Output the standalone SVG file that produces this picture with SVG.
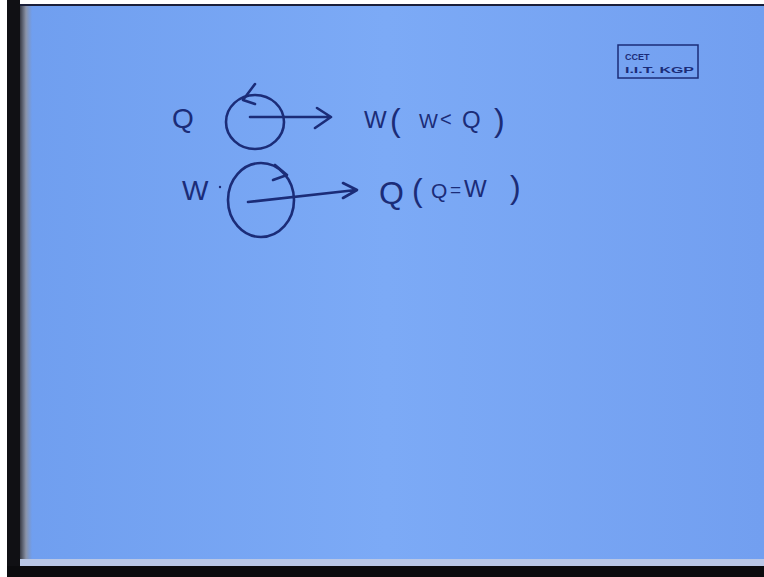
<svg xmlns="http://www.w3.org/2000/svg" width="764" height="577" viewBox="0 0 764 577">
<defs>
<linearGradient id="bg" x1="0" y1="0" x2="1" y2="0">
<stop offset="0" stop-color="#6f9eef"/>
<stop offset="0.5" stop-color="#7caaf6"/>
<stop offset="1" stop-color="#729ff0"/>
</linearGradient>
<linearGradient id="edge" x1="0" y1="0" x2="1" y2="0">
<stop offset="0" stop-color="#3a3d48"/>
<stop offset="0.5" stop-color="#8a93a8"/>
<stop offset="1" stop-color="#6f9eef"/>
</linearGradient>
<style>
.ink{fill:none;stroke:#1b2c78;stroke-width:2.6;stroke-linecap:round;stroke-linejoin:round}
.hand{font-family:"Liberation Sans",Arial,sans-serif;fill:#1b2c78;font-weight:normal}
.logo{font-family:"Liberation Sans",Arial,sans-serif;font-weight:bold;font-size:9px;fill:#1b2c78}
</style>
</defs>
<rect x="0" y="0" width="764" height="577" fill="#ffffff"/>
<rect x="7" y="4" width="757" height="563" fill="url(#bg)"/>
<rect x="7" y="4" width="757" height="2" fill="#1a1f3a"/>
<rect x="7" y="0" width="13" height="577" fill="#101014"/>
<rect x="20" y="6" width="12" height="556" fill="url(#edge)"/>
<rect x="20" y="559" width="744" height="7" fill="#b9c7e6"/>
<rect x="7" y="566" width="757" height="11" fill="#0b0b0e"/>

<g id="logo">
<rect x="618" y="45" width="80" height="33" fill="none" stroke="#1b2c78" stroke-width="1.5"/>
<text class="logo" x="625" y="60">CCET</text>
<text class="logo" x="625" y="73" textLength="69" lengthAdjust="spacingAndGlyphs">I.I.T. KGP</text>
</g>

<g id="row1-left">
<text class="hand" x="172" y="128" font-size="28">Q</text>
</g>
<g id="cycle1">
<ellipse class="ink" cx="255" cy="122" rx="29" ry="27"/>
<path class="ink" d="M255,84 L243,100 L255,104"/>
</g>
<g id="row1-right">
<text class="hand" x="364" y="128" font-size="24">W</text>
<text class="hand" x="390" y="131" font-size="32">(</text>
<text class="hand" x="419" y="128" font-size="20">W</text>
<text class="hand" x="440" y="126" font-size="20">&lt;</text>
<text class="hand" x="462" y="128" font-size="24">Q</text>
<text class="hand" x="494" y="131" font-size="32">)</text>
</g>

<g id="row2-left">
<text class="hand" x="182" y="200" font-size="28">W</text>
<circle cx="220" cy="187" r="1.2" fill="#1b2c78"/>
</g>
<g id="cycle2">
<ellipse class="ink" cx="261" cy="200" rx="33" ry="37"/>
<path class="ink" d="M275,165 L287,175 L273,180"/>
</g>
<g id="row2-right">
<text class="hand" x="379" y="204" font-size="32">Q</text>
<text class="hand" x="412" y="201" font-size="32">(</text>
<text class="hand" x="431" y="198" font-size="21">Q</text>
<text class="hand" x="450" y="196" font-size="19">=</text>
<text class="hand" x="464" y="197" font-size="24">W</text>
<text class="hand" x="510" y="198" font-size="32">)</text>
</g>

<g id="connectors">
<path class="ink" d="M250,117 L330,117 M317,108 L331,117 L315,128"/>
<path class="ink" d="M248,202 L356,190 M343,183 L357,190 L343,198"/>
</g>
</svg>
